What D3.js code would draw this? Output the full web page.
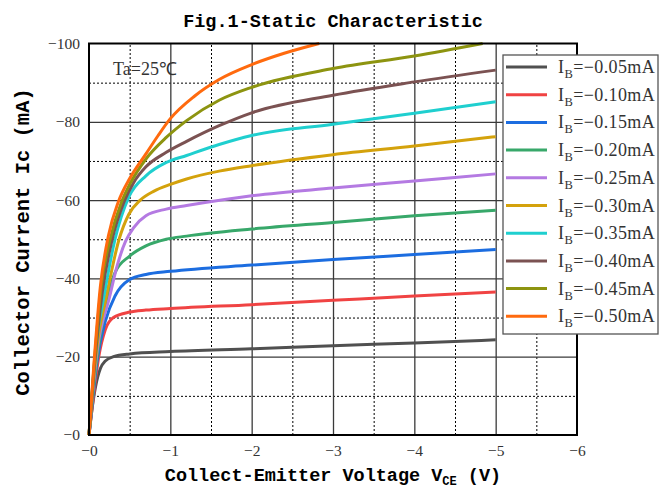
<!DOCTYPE html>
<html>
<head>
<meta charset="utf-8">
<script src="https://cdn.jsdelivr.net/npm/d3@7/dist/d3.min.js"></script>
<style>
  html, body { margin: 0; padding: 0; background: #fff; }
  svg { display: block; }
</style>
</head>
<body>
<svg id="chart" width="659" height="491"></svg>
<script>
// ---------- data ----------
const seriesLabels = ["-0.05mA","-0.10mA","-0.15mA","-0.20mA","-0.25mA","-0.30mA","-0.35mA","-0.40mA","-0.45mA","-0.50mA"];
const seriesColors = ["#505050","#f04343","#1c6de0","#38a86a","#b47ae2","#d4a20c","#1fcfcf","#7b5252","#8d9410","#ff6a0e"];

// each curve: [VCE (V), Ic (mA)]
const ib005 = [[0,0],[-0.03,-5.5],[-0.08,-12.3],[-0.14,-17],[-0.2,-18.9],[-0.3,-20.0],[-0.5,-20.7],[-1,-21.3],[-2,-22.0],[-3,-22.8],[-4,-23.5],[-5,-24.3]];
const ib010 = [[0,0],[-0.05,-9],[-0.12,-20],[-0.2,-26.9],[-0.3,-30.0],[-0.5,-31.4],[-0.7,-31.9],[-1,-32.3],[-2,-33.3],[-3,-34.4],[-4,-35.5],[-5,-36.5]];
const ib015 = [[0,0],[-0.05,-10],[-0.1,-19],[-0.2,-29],[-0.32,-35.5],[-0.5,-39.7],[-0.7,-41],[-1,-41.8],[-2,-43.4],[-3,-44.8],[-4,-46.1],[-5,-47.4]];
const ib020 = [[0,0],[-0.05,-11],[-0.1,-20],[-0.2,-32],[-0.32,-41.5],[-0.5,-45.7],[-0.7,-48.3],[-0.95,-50],[-1.2,-50.8],[-2,-52.6],[-3,-54.3],[-4,-56.0],[-5,-57.4]];
const ib025 = [[0,0],[-0.05,-12],[-0.1,-21.5],[-0.25,-35],[-0.35,-43.5],[-0.45,-49.5],[-0.55,-53],[-0.7,-56],[-0.95,-57.7],[-1.2,-58.6],[-2,-61.1],[-3,-63.1],[-4,-64.9],[-5,-66.7]];
const ib030 = [[0,0],[-0.05,-13],[-0.1,-23],[-0.21,-35],[-0.37,-50],[-0.49,-56.4],[-0.63,-60],[-0.8,-62.3],[-1,-64.0],[-1.2,-65.4],[-1.6,-67.4],[-2,-68.8],[-3,-71.6],[-4,-73.8],[-5,-76.2]];
const ib035 = [[0,0],[-0.05,-14],[-0.1,-25],[-0.18,-35],[-0.32,-50],[-0.49,-60.8],[-0.7,-66.2],[-0.95,-69.6],[-1.2,-71.4],[-1.6,-74.2],[-2,-76.5],[-3,-79.4],[-4,-82.2],[-5,-85.1]];
const ib040 = [[0,0],[-0.06,-16],[-0.16,-36],[-0.28,-49.5],[-0.43,-59.5],[-0.55,-64.5],[-0.7,-68.5],[-0.95,-72.2],[-1.2,-75.0],[-1.6,-79.0],[-2,-82.3],[-3,-86.8],[-4,-90.2],[-5,-93.2]];
const ib045 = [[0,0],[-0.06,-17],[-0.15,-38],[-0.26,-50],[-0.40,-59.5],[-0.5,-64],[-0.7,-70.5],[-0.95,-76],[-1.2,-80.3],[-1.6,-85.5],[-2,-88.8],[-3,-93.6],[-4,-96.8],[-4.84,-100]];
const ib050 = [[0,0],[-0.06,-18],[-0.14,-38],[-0.24,-51],[-0.36,-59.5],[-0.5,-65.5],[-0.7,-71.8],[-0.85,-76.5],[-1,-80.8],[-1.3,-86.6],[-1.6,-90.8],[-2,-94.6],[-2.4,-97.5],[-2.83,-100]];
const seriesData = [ib005, ib010, ib015, ib020, ib025, ib030, ib035, ib040, ib045, ib050];

const xMajorTicks = [0,-1,-2,-3,-4,-5,-6];
const xMinorTicks = [-0.5,-1.5,-2.5,-3.5,-4.5,-5.5];
const yMajorTicks = [0,-20,-40,-60,-80,-100];
const yMinorTicks = [-10,-30,-50,-70,-90];

const titleText = "Fig.1-Static Characteristic";
const xLabelMain = "Collect-Emitter Voltage V";
const xLabelSub = "CE";
const xLabelTail = " (V)";
const yLabelText = "Collector Current Ic (mA)";
const noteText = "Ta=25℃";

// ---------- layout ----------
const L = 89, R = 577, T = 43.5, B = 435;
const svg = d3.select("#chart");
const x = d3.scaleLinear().domain([0, -6]).range([L, R]);
const y = d3.scaleLinear().domain([0, -100]).range([B, T]);
const fmt = v => "\u2212" + Math.abs(v);

// grid: minor dotted
const gMinorX = svg.append("g").attr("transform", `translate(0,${B})`)
  .call(d3.axisBottom(x).tickValues(xMinorTicks).tickSize(-(B - T)).tickFormat(""));
const gMinorY = svg.append("g").attr("transform", `translate(${L},0)`)
  .call(d3.axisLeft(y).tickValues(yMinorTicks).tickSize(-(R - L)).tickFormat(""));
[gMinorX, gMinorY].forEach(g => {
  g.select(".domain").remove();
  g.selectAll(".tick line").attr("stroke", "#000").attr("stroke-width", 1).attr("stroke-dasharray", "2,2");
});
// grid: major solid
const gMajX = svg.append("g").attr("transform", `translate(0,${B})`)
  .call(d3.axisBottom(x).tickValues(xMajorTicks.slice(1, -1)).tickSize(-(B - T)).tickFormat(""));
const gMajY = svg.append("g").attr("transform", `translate(${L},0)`)
  .call(d3.axisLeft(y).tickValues(yMajorTicks.slice(1, -1)).tickSize(-(R - L)).tickFormat(""));
[gMajX, gMajY].forEach(g => {
  g.select(".domain").remove();
  g.selectAll(".tick line").attr("stroke", "#3a3a3a").attr("stroke-width", 1.3);
});

// curves
const line = d3.line().x(d => x(d[0])).y(d => y(d[1])).curve(d3.curveMonotoneX);
svg.append("g").selectAll("path").data(seriesData).join("path")
  .attr("d", line)
  .attr("fill", "none")
  .attr("stroke", (d, i) => seriesColors[i])
  .attr("stroke-width", 3)
  .attr("stroke-linejoin", "round");

// frame
svg.append("rect").attr("x", L).attr("y", T).attr("width", R - L).attr("height", B - T)
  .attr("fill", "none").attr("stroke", "#000").attr("stroke-width", 2);

// tick labels
const axX = svg.append("g").attr("transform", `translate(0,${B})`)
  .call(d3.axisBottom(x).tickValues(xMajorTicks).tickSize(0).tickPadding(10).tickFormat(fmt));
const axY = svg.append("g").attr("transform", `translate(${L},0)`)
  .call(d3.axisLeft(y).tickValues(yMajorTicks).tickSize(0).tickPadding(9).tickFormat(fmt));
[axX, axY].forEach(g => {
  g.select(".domain").remove();
  g.selectAll("text").attr("font-family", "'Liberation Serif', serif").attr("font-size", 15.5).attr("fill", "#333");
});

// note
svg.append("text").attr("x", 113).attr("y", 75)
  .attr("font-family", "'Liberation Serif', serif").attr("font-size", 18).attr("fill", "#333")
  .text(noteText);

// title
svg.append("text").attr("x", 333).attr("y", 27).attr("text-anchor", "middle")
  .attr("font-family", "'Liberation Mono', monospace").attr("font-weight", "bold").attr("font-size", 18.5)
  .attr("fill", "#000").text(titleText);

// x label
const xl = svg.append("text").attr("x", 333).attr("y", 481).attr("text-anchor", "middle")
  .attr("font-family", "'Liberation Mono', monospace").attr("font-weight", "bold").attr("font-size", 18.5).attr("fill", "#000");
xl.append("tspan").text(xLabelMain);
xl.append("tspan").attr("font-size", 12).attr("dy", 4).text(xLabelSub);
xl.append("tspan").attr("dy", -4).text(xLabelTail);

// y label
svg.append("text").attr("transform", `translate(29,242) rotate(-90)`).attr("text-anchor", "middle")
  .attr("font-family", "'Liberation Mono', monospace").attr("font-weight", "bold").attr("font-size", 20.5)
  .attr("fill", "#000").text(yLabelText);

// legend
const lg = svg.append("g");
lg.append("rect").attr("x", 503).attr("y", 55).attr("width", 155).attr("height", 279)
  .attr("fill", "#fff").attr("stroke", "#555").attr("stroke-width", 1.3);
const rows = lg.selectAll("g.row").data(seriesLabels).join("g").attr("class", "row")
  .attr("transform", (d, i) => `translate(0,${67 + i * 27.7})`);
rows.append("line").attr("x1", 506).attr("x2", 547).attr("y1", 0).attr("y2", 0)
  .attr("stroke", (d, i) => seriesColors[i]).attr("stroke-width", 3);
const lt = rows.append("text").attr("x", 558).attr("y", 6)
  .attr("font-family", "'Liberation Serif', serif").attr("font-size", 18).attr("letter-spacing", 0.4).attr("fill", "#333");
lt.append("tspan").text("I");
lt.append("tspan").attr("font-size", 12.5).attr("dy", 5).text("B");
lt.append("tspan").attr("dy", -5).text(d => "=" + d.replace("-", "\u2212"));
</script>
</body>
</html>
